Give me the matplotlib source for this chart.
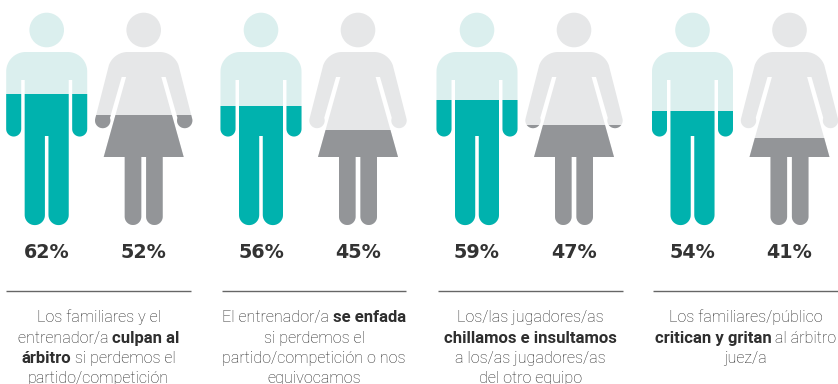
import numpy as np
import matplotlib
matplotlib.use('Agg')
import matplotlib.pyplot as plt
from matplotlib.patches import Polygon, Circle, Rectangle

men = [62, 56, 59, 54]
women = [52, 45, 47, 41]
captions = [
    [[('Los familiares y el', False)],
     [('entrenador/a ', False), ('culpan al', True)],
     [('árbitro', True), (' si perdemos el', False)],
     [('partido/competición', False)]],
    [[('El entrenador/a ', False), ('se enfada', True)],
     [('si perdemos el', False)],
     [('partido/competición o nos', False)],
     [('equivocamos', False)]],
    [[('Los/las jugadores/as', False)],
     [('chillamos e insultamos', True)],
     [('a los/as jugadores/as', False)],
     [('del otro equipo', False)]],
    [[('Los familiares/público', False)],
     [('critican y gritan', True), (' al árbitro', False)],
     [('juez/a', False)]],
]

man_x = [46.7, 261, 477, 692.5]
woman_x = [143.7, 358, 574, 789.5]
rule_x = [(6, 191), (222, 406), (438, 623), (653, 838)]

TEAL = '#00b2ae'
TEAL_LIGHT = '#dbefee'
GREY = '#939598'
GREY_LIGHT = '#e6e7e8'
TOP, BOTTOM = 13, 225


def arc(cx, cy, r, a0, a1):
    a = np.radians(np.linspace(a0, a1, 24))
    return np.column_stack([cx + r * np.cos(a), cy + r * np.sin(a)])


def man_shape():
    # right half, from the top of the shoulder down to the crotch
    half = np.vstack([
        [[0, 52], [21, 52]],
        arc(21, 71.5, 19.5, -90, 0),
        arc(33, 129, 7.5, 0, 180),
        [[25.5, 80], [22, 80]],
        arc(11.9, 215, 10.1, 0, 180),
        [[1.8, 136], [0, 136]],
    ])
    left = half[::-1] * [-1, 1]
    return np.vstack([half, left])


def woman_shape():
    half = np.vstack([
        [[0, 52], [16, 52]],
        arc(16, 72, 20, -90, -20),
        arc(41, 120.5, 7.7, -18, 200),
        [[22, 77], [17.6, 77], [40, 157], [19, 157]],
        arc(10.7, 216.7, 8.3, 0, 180),
        [[2.4, 157], [0, 157]],
    ])
    left = half[::-1] * [-1, 1]
    return np.vstack([half, left])


def draw_person(ax, cx, shape, value, light, dark):
    level = BOTTOM - (BOTTOM - TOP) * value / 100
    clip = Rectangle((cx - 60, level), 120, BOTTOM - level + 2, transform=ax.transData)
    for color, use_clip in ((light, False), (dark, True)):
        body = Polygon(shape + [cx, 0], closed=True, fc=color, ec='none')
        head = Circle((cx, 30), 17.3, fc=color, ec='none')
        ax.add_patch(body)
        ax.add_patch(head)
        if use_clip:
            body.set_clip_path(clip)
            head.set_clip_path(clip)


def draw_line(ax, cx, y, pieces):
    # mixed light/bold text, measured first so the whole line can be centred
    renderer = ax.figure.canvas.get_renderer()
    items = []
    total = 0
    for txt, bold in pieces:
        t = ax.text(0, y, txt, family='Roboto', fontsize=12.0 if bold else 11.6,
                    fontweight='bold' if bold else 'light',
                    color='#2e2e2e' if bold else '#262626', va='baseline', ha='left')
        w = t.get_window_extent(renderer).width
        items.append((t, w))
        total += w
    x = cx - total / 2
    for t, w in items:
        t.set_x(x)
        x += w


fig = plt.figure(figsize=(8.38, 3.84), dpi=100)
ax = fig.add_axes([0, 0, 1, 1])
ax.set_xlim(0, 838)
ax.set_ylim(384, 0)
ax.axis('off')

man = man_shape()
woman = woman_shape()

for i in range(4):
    draw_person(ax, man_x[i], man, men[i], TEAL_LIGHT, TEAL)
    draw_person(ax, woman_x[i], woman, women[i], GREY_LIGHT, GREY)
    ax.text(man_x[i], 252, f'{men[i]}%', family='DejaVu Sans', fontweight='bold',
            fontsize=13.8, color='#333333', ha='center', va='center')
    ax.text(woman_x[i], 252, f'{women[i]}%', family='DejaVu Sans', fontweight='bold',
            fontsize=13.8, color='#333333', ha='center', va='center')
    ax.plot(rule_x[i], [290.5, 290.5], color='#666666', lw=1.0, solid_capstyle='butt')
    cx = sum(rule_x[i]) / 2
    for n, pieces in enumerate(captions[i]):
        draw_line(ax, cx, 322.2 + n * 20.4, pieces)

fig.savefig('out.png', dpi=100)
